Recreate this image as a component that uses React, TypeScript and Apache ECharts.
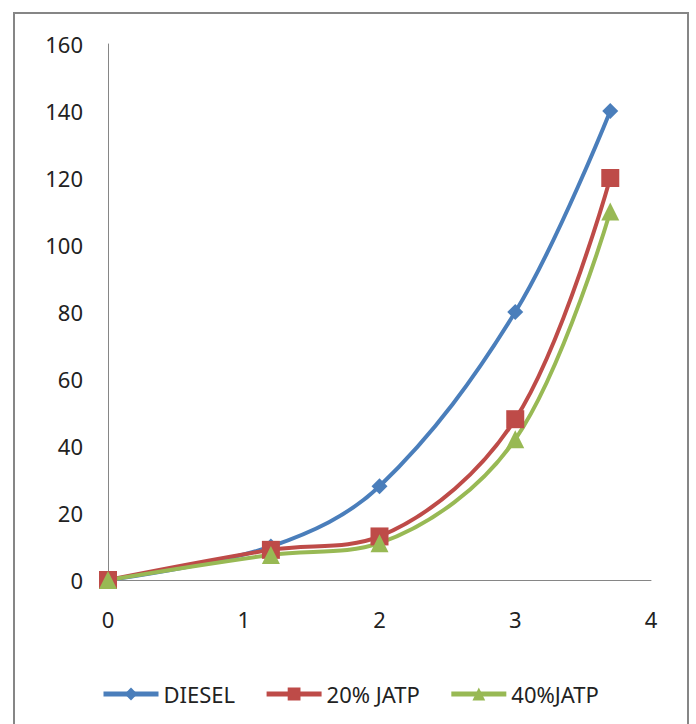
import React, { useEffect, useRef } from "react";
import * as echarts from "echarts";

const xValues = [0, 1.2, 2, 3, 3.7];
const diesel = [0, 10, 28, 80, 140];
const jatp20 = [0, 9, 13, 48, 120];
const jatp40 = [0, 7.5, 11, 42, 110];
const seriesNames = ["DIESEL", "20% JATP", "40%JATP"];
const colors = ["#4A7EBB", "#BE4B48", "#98B954"];

const FONT = '"Noto Sans", "Open Sans", sans-serif';

export default function App() {
  const ref = useRef<HTMLDivElement>(null);
  useEffect(() => {
    if (!ref.current) return;
    const chart = echarts.init(ref.current, undefined, { renderer: "svg" });
    const pair = (ys: number[]) => xValues.map((x, i) => [x, ys[i]]);
    const mk = (name: string, ys: number[], color: string, symbol: string, size: number) => ({
      name,
      type: "line",
      data: pair(ys),
      smooth: 0.35,
      symbol,
      symbolSize: size,
      showSymbol: true,
      lineStyle: { color, width: 4 },
      itemStyle: { color, borderWidth: 0 },
      emphasis: { disabled: true },
    });
    chart.setOption({
      animation: false,
      backgroundColor: "#ffffff",
      textStyle: { fontFamily: FONT },
      graphic: [
        {
          type: "rect",
          shape: { x: 14, y: 13, width: 674, height: 730 },
          style: { fill: "none", stroke: "#868686", lineWidth: 2 },
          silent: true,
          z: -1,
        },
      ],
      grid: { left: 108, right: 45, top: 44, bottom: 144, containLabel: false },
      xAxis: {
        type: "value",
        min: 0,
        max: 4,
        interval: 1,
        axisLine: { show: true, onZero: false, lineStyle: { color: "#868686", width: 1 } },
        axisTick: { show: false },
        splitLine: { show: false },
        axisLabel: { color: "#222", fontSize: 22, fontFamily: FONT, margin: 28 },
      },
      yAxis: {
        type: "value",
        min: 0,
        max: 160,
        interval: 20,
        axisLine: { show: true, lineStyle: { color: "#868686", width: 1 } },
        axisTick: { show: false },
        splitLine: { show: false },
        axisLabel: { color: "#222", fontSize: 22, fontFamily: FONT, margin: 25 },
      },
      legend: {
        left: 101,
        top: 683,
        padding: 0,
        itemWidth: 55,
        itemHeight: 16,
        itemGap: 29,
        lineStyle: { width: 5 },
        textStyle: { color: "#222", fontSize: 22, fontFamily: FONT },
        data: seriesNames,
      },
      series: [
        mk(seriesNames[0], diesel, colors[0], "diamond", 16),
        mk(seriesNames[1], jatp20, colors[1], "rect", 18),
        mk(seriesNames[2], jatp40, colors[2], "triangle", 18),
      ],
    });
    return () => chart.dispose();
  }, []);
  return (
    <div
      ref={ref}
      style={{ position: "fixed", left: 0, top: 0, width: 696, height: 724 }}
    />
  );
}
